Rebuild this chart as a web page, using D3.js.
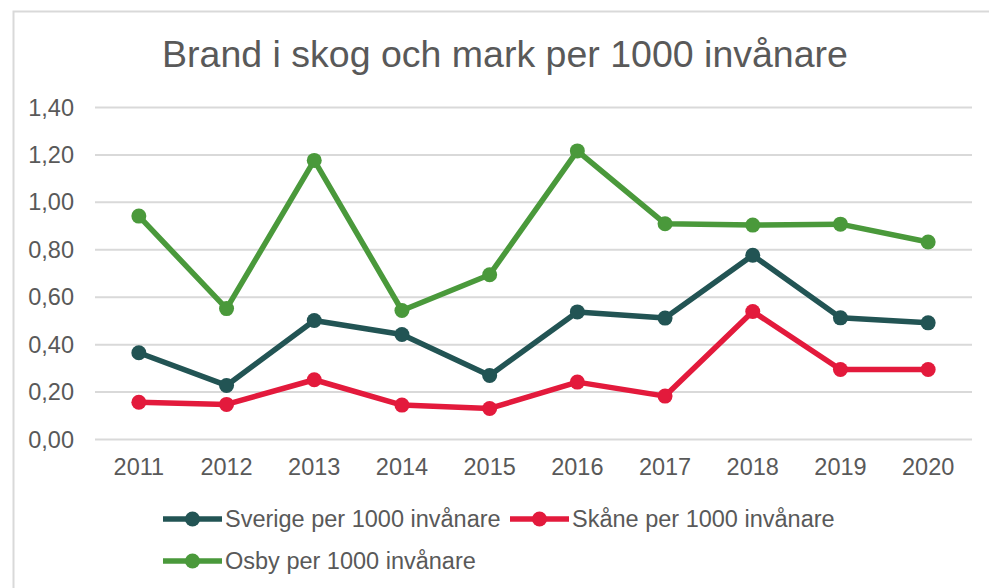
<!DOCTYPE html>
<meta charset="utf-8">
<head>
<script src="https://d3js.org/d3.v7.min.js"></script>
<style>
  body { margin: 0; background: #fff; }
  text { font-family: "Liberation Sans", Arial, sans-serif; fill: #595959; }
  .grid line { stroke: #d9d9d9; stroke-width: 2; }
</style>
</head>
<body>
<svg width="989" height="588"></svg>
<script>

var years = [2011, 2012, 2013, 2014, 2015, 2016, 2017, 2018, 2019, 2020];
var sverige = [0.366, 0.228, 0.502, 0.443, 0.270, 0.538, 0.512, 0.777, 0.513, 0.492];
var skane   = [0.157, 0.148, 0.252, 0.145, 0.131, 0.242, 0.183, 0.540, 0.295, 0.295];
var osby    = [0.942, 0.552, 1.177, 0.544, 0.695, 1.217, 0.910, 0.904, 0.908, 0.833];
var yTicks = [0, 0.2, 0.4, 0.6, 0.8, 1.0, 1.2, 1.4];

var seriesNames = ["Sverige per 1000 invånare", "Skåne per 1000 invånare", "Osby per 1000 invånare"];
var colors = ["#225454", "#e31a3c", "#4a993b"];
var series = [sverige, skane, osby];

var svg = d3.select("svg");

// chart frame
svg.append("rect")
    .attr("x", 13.5).attr("y", 11.5)
    .attr("width", 1000).attr("height", 600)
    .attr("fill", "none")
    .attr("stroke", "#d9d9d9")
    .attr("stroke-width", 2);

svg.append("text")
    .attr("x", 505)
    .attr("y", 67)
    .attr("text-anchor", "middle")
    .attr("font-size", "37.5px")
    .text("Brand i skog och mark per 1000 invånare");

var x = d3.scaleBand().domain(years).range([95, 972]),
    y = d3.scaleLinear().domain([0, 1.4]).range([439.5, 107.5]);

var fmt = function(d) { return d3.format(".2f")(d).replace(".", ","); };

// gridlines
svg.append("g")
    .attr("class", "grid")
    .selectAll("line")
    .data(yTicks)
    .enter().append("line")
    .attr("x1", 95).attr("x2", 972)
    .attr("y1", function(d) { return y(d); })
    .attr("y2", function(d) { return y(d); });

// y axis labels
var yAxis = svg.append("g")
    .attr("transform", "translate(95,0)")
    .call(d3.axisLeft(y).tickValues(yTicks).tickFormat(fmt).tickSize(0).tickPadding(21));
yAxis.select(".domain").remove();
yAxis.selectAll("text").attr("font-size", "23.5px").attr("font-family", null).attr("fill", "#595959");

// x axis labels
var xAxis = svg.append("g")
    .attr("transform", "translate(0,439.5)")
    .call(d3.axisBottom(x).tickSize(0).tickPadding(19));
xAxis.select(".domain").remove();
xAxis.selectAll("text").attr("font-size", "23.5px").attr("font-family", null).attr("fill", "#595959");

var line = d3.line()
    .x(function(d, i) { return x(years[i]) + x.bandwidth() / 2; })
    .y(function(d) { return y(d); });

series.forEach(function(s, k) {
    svg.append("path")
        .datum(s)
        .attr("fill", "none")
        .attr("stroke", colors[k])
        .attr("stroke-width", 5.5)
        .attr("stroke-linejoin", "round")
        .attr("d", line);
    svg.selectAll(".dot" + k)
        .data(s)
        .enter().append("circle")
        .attr("class", "dot" + k)
        .attr("cx", function(d, i) { return x(years[i]) + x.bandwidth() / 2; })
        .attr("cy", function(d) { return y(d); })
        .attr("r", 7.5)
        .attr("fill", colors[k]);
});

// legend
var legendPos = [[163, 519], [510, 519], [163, 561]];
var legend = svg.selectAll(".legend")
    .data(seriesNames)
    .enter().append("g")
    .attr("class", "legend")
    .attr("transform", function(d, i) { return "translate(" + legendPos[i][0] + "," + legendPos[i][1] + ")"; });

legend.append("line")
    .attr("x1", 0).attr("x2", 59)
    .attr("stroke", function(d, i) { return colors[i]; })
    .attr("stroke-width", 5.5);
legend.append("circle")
    .attr("cx", 29.5)
    .attr("r", 7.5)
    .attr("fill", function(d, i) { return colors[i]; });
legend.append("text")
    .attr("x", 62)
    .attr("dy", "0.35em")
    .attr("font-size", "23.5px")
    .text(function(d) { return d; });

</script>
</body>
